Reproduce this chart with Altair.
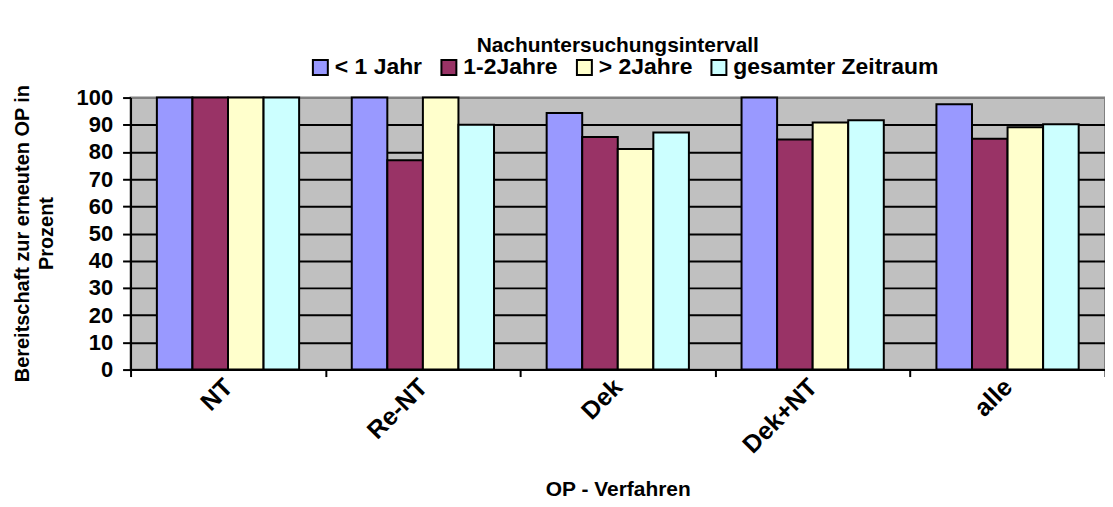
import altair as alt
import pandas as pd

categories = ["NT", "Re-NT", "Dek", "Dek+NT", "alle"]
series = ["< 1 Jahr", "1-2Jahre", "> 2Jahre", "gesamter Zeitraum"]
lt1 = [100, 100, 94.3, 100, 97.5]
y12 = [100, 77, 85.5, 84.6, 84.9]
gt2 = [100, 100, 81.1, 90.8, 89.1]
total = [100, 90, 87.2, 91.7, 90.2]
colors = ["#9999FF", "#993366", "#FFFFCC", "#CCFFFF"]
y_ticks = [0, 10, 20, 30, 40, 50, 60, 70, 80, 90, 100]

rows = []
for s, vals in zip(series, [lt1, y12, gt2, total]):
    for c, v in zip(categories, vals):
        rows.append({"Verfahren": c, "Intervall": s, "Wert": v})
df = pd.DataFrame(rows)

FONT = "Liberation Sans"

chart = alt.Chart(df).mark_bar(stroke="black", strokeWidth=2).encode(
    x=alt.X("Verfahren:N", sort=categories,
            scale=alt.Scale(paddingInner=0, paddingOuter=0),
            axis=alt.Axis(title="OP - Verfahren", labelAngle=-45, labelAlign="right",
                          labelBaseline="middle", labelFont=FONT, labelFontSize=25,
                          labelFontWeight="bold", labelColor="black", labelPadding=6,
                          tickBand="extent", tickSize=7, tickWidth=2, tickColor="black",
                          domainColor="black", domainWidth=2,
                          titleFont=FONT, titleFontSize=21, titleFontWeight="bold",
                          titleColor="black", titleY=126, titleBaseline="alphabetic")),
    xOffset=alt.XOffset("Intervall:N", sort=series,
                        scale=alt.Scale(paddingInner=0, paddingOuter=0.74)),
    y=alt.Y("Wert:Q", scale=alt.Scale(domain=[0, 100], nice=False),
            axis=alt.Axis(values=y_ticks, title=["Bereitschaft zur erneuten OP in", "Prozent"],
                          grid=True,
                          gridColor=alt.condition("datum.value == 100", alt.value("#808080"), alt.value("black")),
                          gridWidth=2,
                          labelFont=FONT, labelFontSize=22, labelFontWeight="bold",
                          labelColor="black", labelPadding=10,
                          tickSize=8, tickWidth=2, tickColor="black",
                          domainColor="black", domainWidth=2,
                          titleFont=FONT, titleFontSize=20, titleFontWeight="bold",
                          titleColor="black", titleAngle=-90, titleAlign="center",
                          titleBaseline="middle", titleLineHeight=24,
                          titleX=-108, titleY=136)),
    color=alt.Color("Intervall:N", sort=series,
                    scale=alt.Scale(domain=series, range=colors),
                    legend=alt.Legend(title=None, orient="none", direction="horizontal",
                                      legendX=179, legendY=-42, symbolType="square",
                                      symbolSize=225, symbolStrokeColor="black",
                                      symbolStrokeWidth=2, symbolOpacity=1,
                                      labelFont=FONT, labelFontSize=23, labelFontWeight="bold",
                                      labelColor="black", labelOffset=3, columnPadding=15,
                                      labelLimit=500)),
).properties(
    width=978, height=273,
    title=alt.TitleParams("Nachuntersuchungsintervall", font=FONT, fontSize=21,
                          fontWeight="bold", color="black", anchor="middle", offset=0, dy=0),
    autosize=alt.AutoSizeParams(type="none"),
    padding={"left": 123, "top": 89, "right": 0, "bottom": 129},
).configure_view(fill="#C0C0C0", stroke="#808080", strokeWidth=2)

chart.save("out.html", embed_options={"renderer": "svg", "actions": False})
